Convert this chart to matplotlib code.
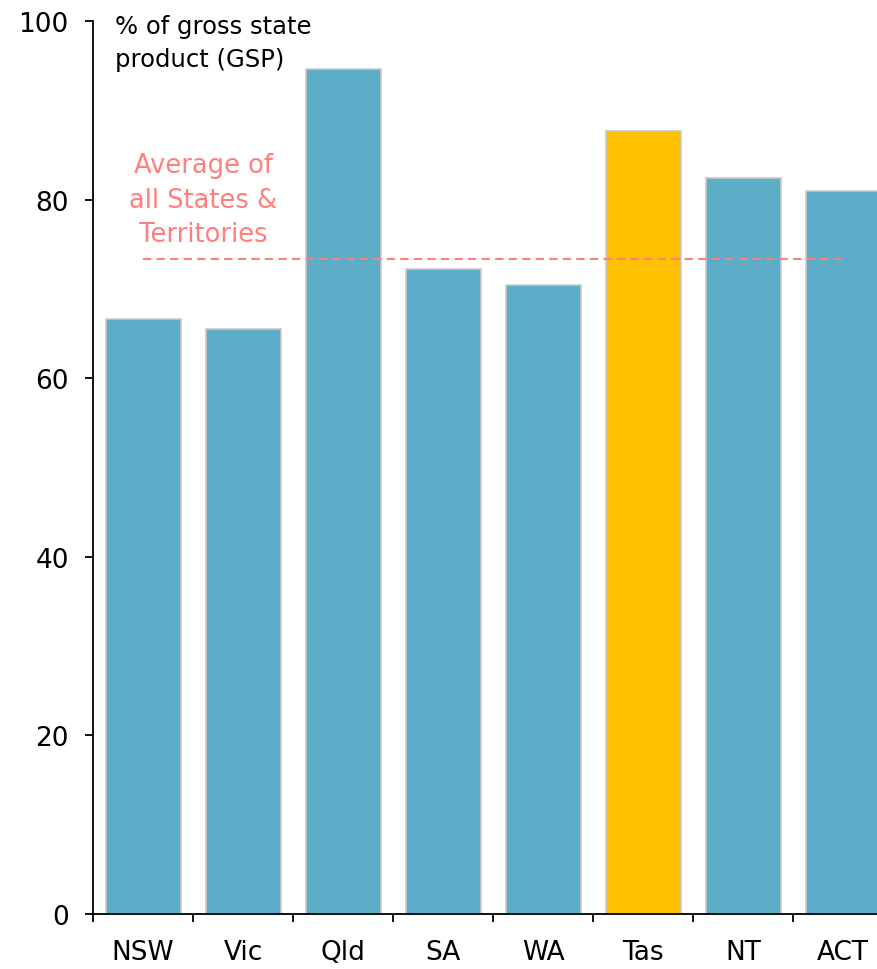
import matplotlib
matplotlib.use("Agg")
import matplotlib.pyplot as plt
from matplotlib.ticker import FixedLocator, NullFormatter

states = ["NSW", "Vic", "Qld", "SA", "WA", "Tas", "NT", "ACT"]
gsp_share = [66.6, 65.5, 94.6, 72.2, 70.4, 87.7, 82.4, 81.0]
highlight = "Tas"
average = 73.3
y_ticks = [0, 20, 40, 60, 80, 100]

blue = "#5DADC9"
gold = "#FFC000"
avg_col = "#FF7F7F"

plt.rcParams["font.family"] = ["DejaVu Sans"]

fig = plt.figure(figsize=(8.77, 9.70), dpi=100)
ax = fig.add_axes([93 / 877, 55 / 970, 800 / 877, 893 / 970])

x = list(range(len(states)))
colors = [gold if s == highlight else blue for s in states]
ax.bar(x, gsp_share, width=0.75, color=colors, edgecolor="#C8C8C8", linewidth=1.2, zorder=2)

ax.plot([x[0] - 0.005, x[-1] + 0.025], [average, average], color=avg_col, linestyle=(0, (4, 2.5)),
        linewidth=1.5, zorder=3)
ax.text(0.6, 80.0, "Average of\nall States &\nTerritories", color=avg_col, fontsize=18.5,
        ha="center", va="center", linespacing=1.42, zorder=4)

ax.set_xlim(-0.5, 7.5)
ax.set_ylim(0, 100)
ax.set_yticks(y_ticks)
ax.tick_params(axis="y", direction="out", length=6, width=1.3, labelsize=19, pad=11.5)

ax.xaxis.set_major_locator(FixedLocator([i - 0.5 for i in range(len(states) + 1)]))
ax.xaxis.set_major_formatter(NullFormatter())
ax.xaxis.set_minor_locator(FixedLocator(x))
ax.set_xticklabels(states, minor=True)
ax.tick_params(axis="x", which="major", direction="out", length=6, width=1.3)
ax.tick_params(axis="x", which="minor", length=0, labelsize=19, pad=18)

for side in ("top", "right"):
    ax.spines[side].set_visible(False)
for side in ("left", "bottom"):
    ax.spines[side].set_linewidth(1.3)

fig.text(115 / 877, 1 - 43.5 / 970, "% of gross state\nproduct (GSP)", fontsize=17.5,
         ha="left", va="center", linespacing=1.5)

fig.savefig("out.png", dpi=100)
